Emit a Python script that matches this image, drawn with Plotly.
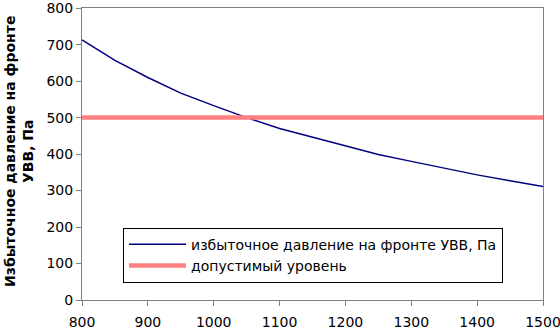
import plotly.graph_objects as go

distance = [800, 850, 900, 950, 1000, 1050, 1100, 1150, 1200, 1250, 1300, 1350, 1400, 1450, 1500]
pressure = [713, 657, 610, 567, 533, 500, 470, 447, 423, 399, 380, 361, 343, 327, 311]
limit_x = [800, 1500]
limit_y = [500, 500]

name_pressure = "избыточное давление на фронте УВВ, Па"
name_limit = "допустимый уровень"
y_title = "<b>Избыточное давление на фронте</b><br><b>УВВ, Па</b>"

FONT = "DejaVu Sans, Liberation Sans, Arial, sans-serif"

fig = go.Figure()
fig.add_trace(go.Scatter(x=distance, y=pressure, mode="lines", name=name_pressure,
                         line=dict(color="#000080", width=1.5)))
fig.add_trace(go.Scatter(x=limit_x, y=limit_y, mode="lines", name=name_limit,
                         line=dict(color="#FF8080", width=4.5)))

fig.update_layout(
    width=560, height=330,
    margin=dict(l=82, r=17, t=8, b=30, autoexpand=False),
    paper_bgcolor="white", plot_bgcolor="white",
    font=dict(family=FONT, size=14, color="black"),
    showlegend=True,
    legend=dict(x=0.089, y=0.248, xanchor="left", yanchor="top",
                bgcolor="white", bordercolor="black", borderwidth=1,
                font=dict(family=FONT, size=14, color="black"),
                itemwidth=57, tracegroupgap=0),
    xaxis=dict(range=[800, 1500], tickvals=[800, 900, 1000, 1100, 1200, 1300, 1400, 1500],
               showgrid=False, zeroline=False, showline=True, linecolor="#808080", linewidth=1,
               mirror=True, ticks="outside", ticklen=5, tickcolor="#808080",
               automargin=False, ticklabelstandoff=4, ticklabeloverflow="allow",
               tickfont=dict(size=14)),
    yaxis=dict(range=[0, 800.5], tickvals=[0, 100, 200, 300, 400, 500, 600, 700, 800],
               showgrid=False, zeroline=False, showline=True, linecolor="#808080", linewidth=1,
               mirror=True, ticks="outside", ticklen=5, tickcolor="#808080",
               automargin=False, ticklabeloverflow="allow", tickfont=dict(size=14)),
    annotations=[dict(text=y_title, textangle=-90, xref="paper", yref="paper",
                      x=-0.137, y=0.51, xanchor="center", yanchor="middle",
                      showarrow=False, font=dict(family=FONT, size=14, color="black"))],
)

fig.write_html("out.html", config={"displayModeBar": False},
               post_script="document.body.style.margin='0';")
